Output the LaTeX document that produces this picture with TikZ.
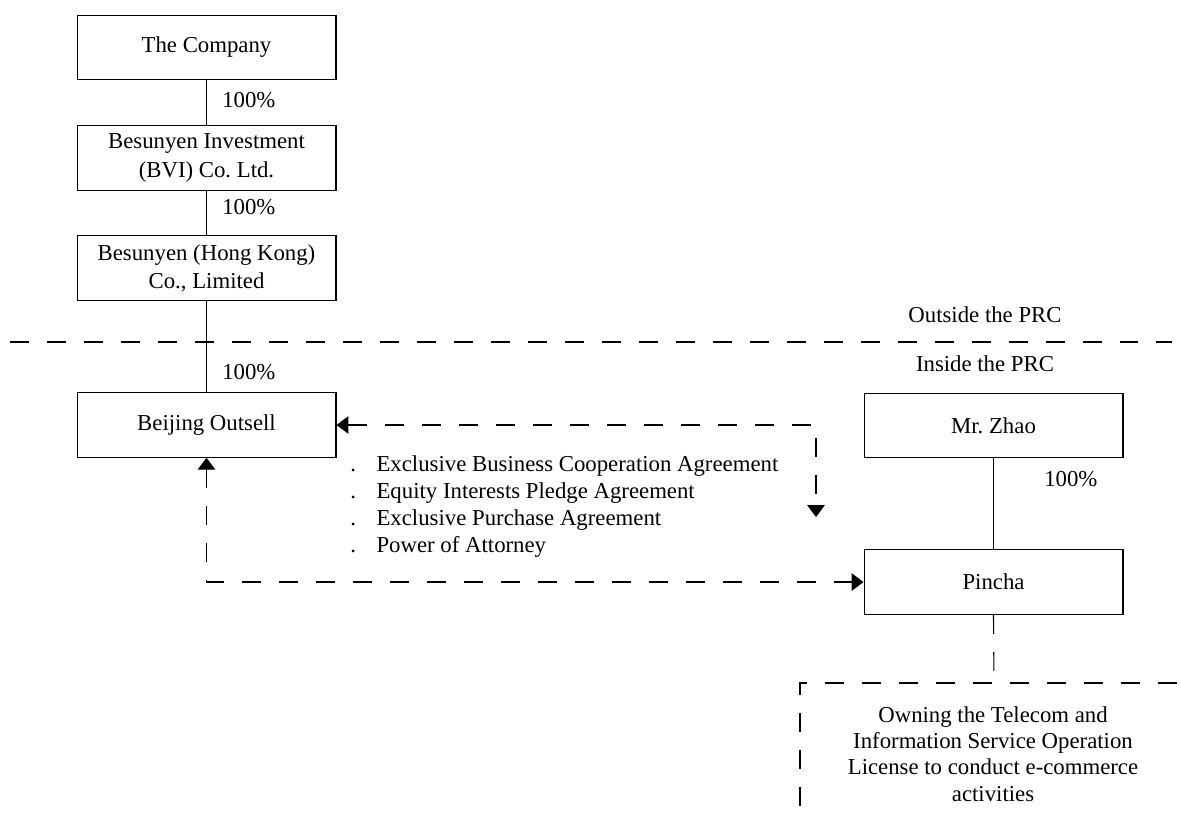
\documentclass[tikz,border=0pt]{standalone}
\usepackage{fontspec}
\setmainfont{Liberation Serif}
\usepackage{tikz}
\usetikzlibrary{arrows.meta}
\frenchspacing

\begin{document}
\begin{tikzpicture}[x=0.025cm,y=-0.025cm, % 1 unit = 1 pixel
	every node/.style={font=\fontsize{16.2}{20}\selectfont},
	entity/.style={draw,line width=0.8pt,minimum width=6.47cm,minimum height=1.61cm,align=center,inner sep=0pt},
	pct/.style={anchor=west,inner sep=0pt},
	own/.style={line width=0.8pt},
	agree/.style={line width=0.8pt,dash pattern=on 13.5pt off 12.8pt}]
				\useasboundingbox (0,0) rectangle (1181,817);
				\node[entity](Co) at (206.5,47.5) {The Company};
				\node[entity](BVI) at (206.5,158) {Besunyen Investment\\(BVI) Co. Ltd.};
				\node[entity](HK) at (206.5,268) {Besunyen (Hong Kong)\\Co., Limited};
				\node[entity](BJ) at (206.5,425) {Beijing Outsell};
				\node[entity](Zhao) at (993.5,425.5) {Mr. Zhao};
				\node[entity](Pin) at (993.5,582) {Pincha};
				\draw[own] (Co) -- (BVI);\draw[own] (BVI) -- (HK);
				\draw[own] (HK) -- (BJ);\draw[own] (Zhao) -- (Pin);
				\node[pct](P1) at (222,100) {100\%};
				\node[pct](P2) at (222,207) {100\%};
				\node[pct](P3) at (222,372) {100\%};
				\node[pct](P4) at (1044,479) {100\%};
				\draw[agree] (10,342) -- (1172,342);
				\node(Out) at (985,315) {Outside the PRC};
				\node(In) at (985,364) {Inside the PRC};
				\coordinate(C1) at (816,425);\coordinate(C2) at (816,517);
				\coordinate(C3) at (206.5,582);
				\draw[agree,{Triangle[width=12.5pt,length=8.5pt]}-{Triangle[width=12.5pt,length=8.5pt]}] (BJ.east) -- (C1) -- (C2);
				\draw[agree,{Triangle[width=12.5pt,length=8.5pt]}-{Triangle[width=12.5pt,length=8.5pt]}] (BJ.south) -- (C3) -- (Pin.west);
				\node[anchor=west,inner sep=0pt,align=left,font=\fontsize{16.2}{19.3}\selectfont](Deals) at (350,506.5)
					{\makebox[18.7pt][l]{.}Exclusive Business Cooperation Agreement\\
					 \makebox[18.7pt][l]{.}Equity Interests Pledge Agreement\\
					 \makebox[18.7pt][l]{.}Exclusive Purchase Agreement\\
					 \makebox[18.7pt][l]{.}Power of Attorney};
				\coordinate(L1) at (994,683);
				\draw[agree] (Pin.south) -- (L1);
				\draw[agree] (1177,683) -- (800,683) -- (800,817);
				\node[align=center,font=\fontsize{16.2}{18.6}\selectfont](Lic) at (993,754)
					{Owning the Telecom and\\Information Service Operation\\License to conduct e-commerce\\activities};
			\end{tikzpicture}
\end{document}
